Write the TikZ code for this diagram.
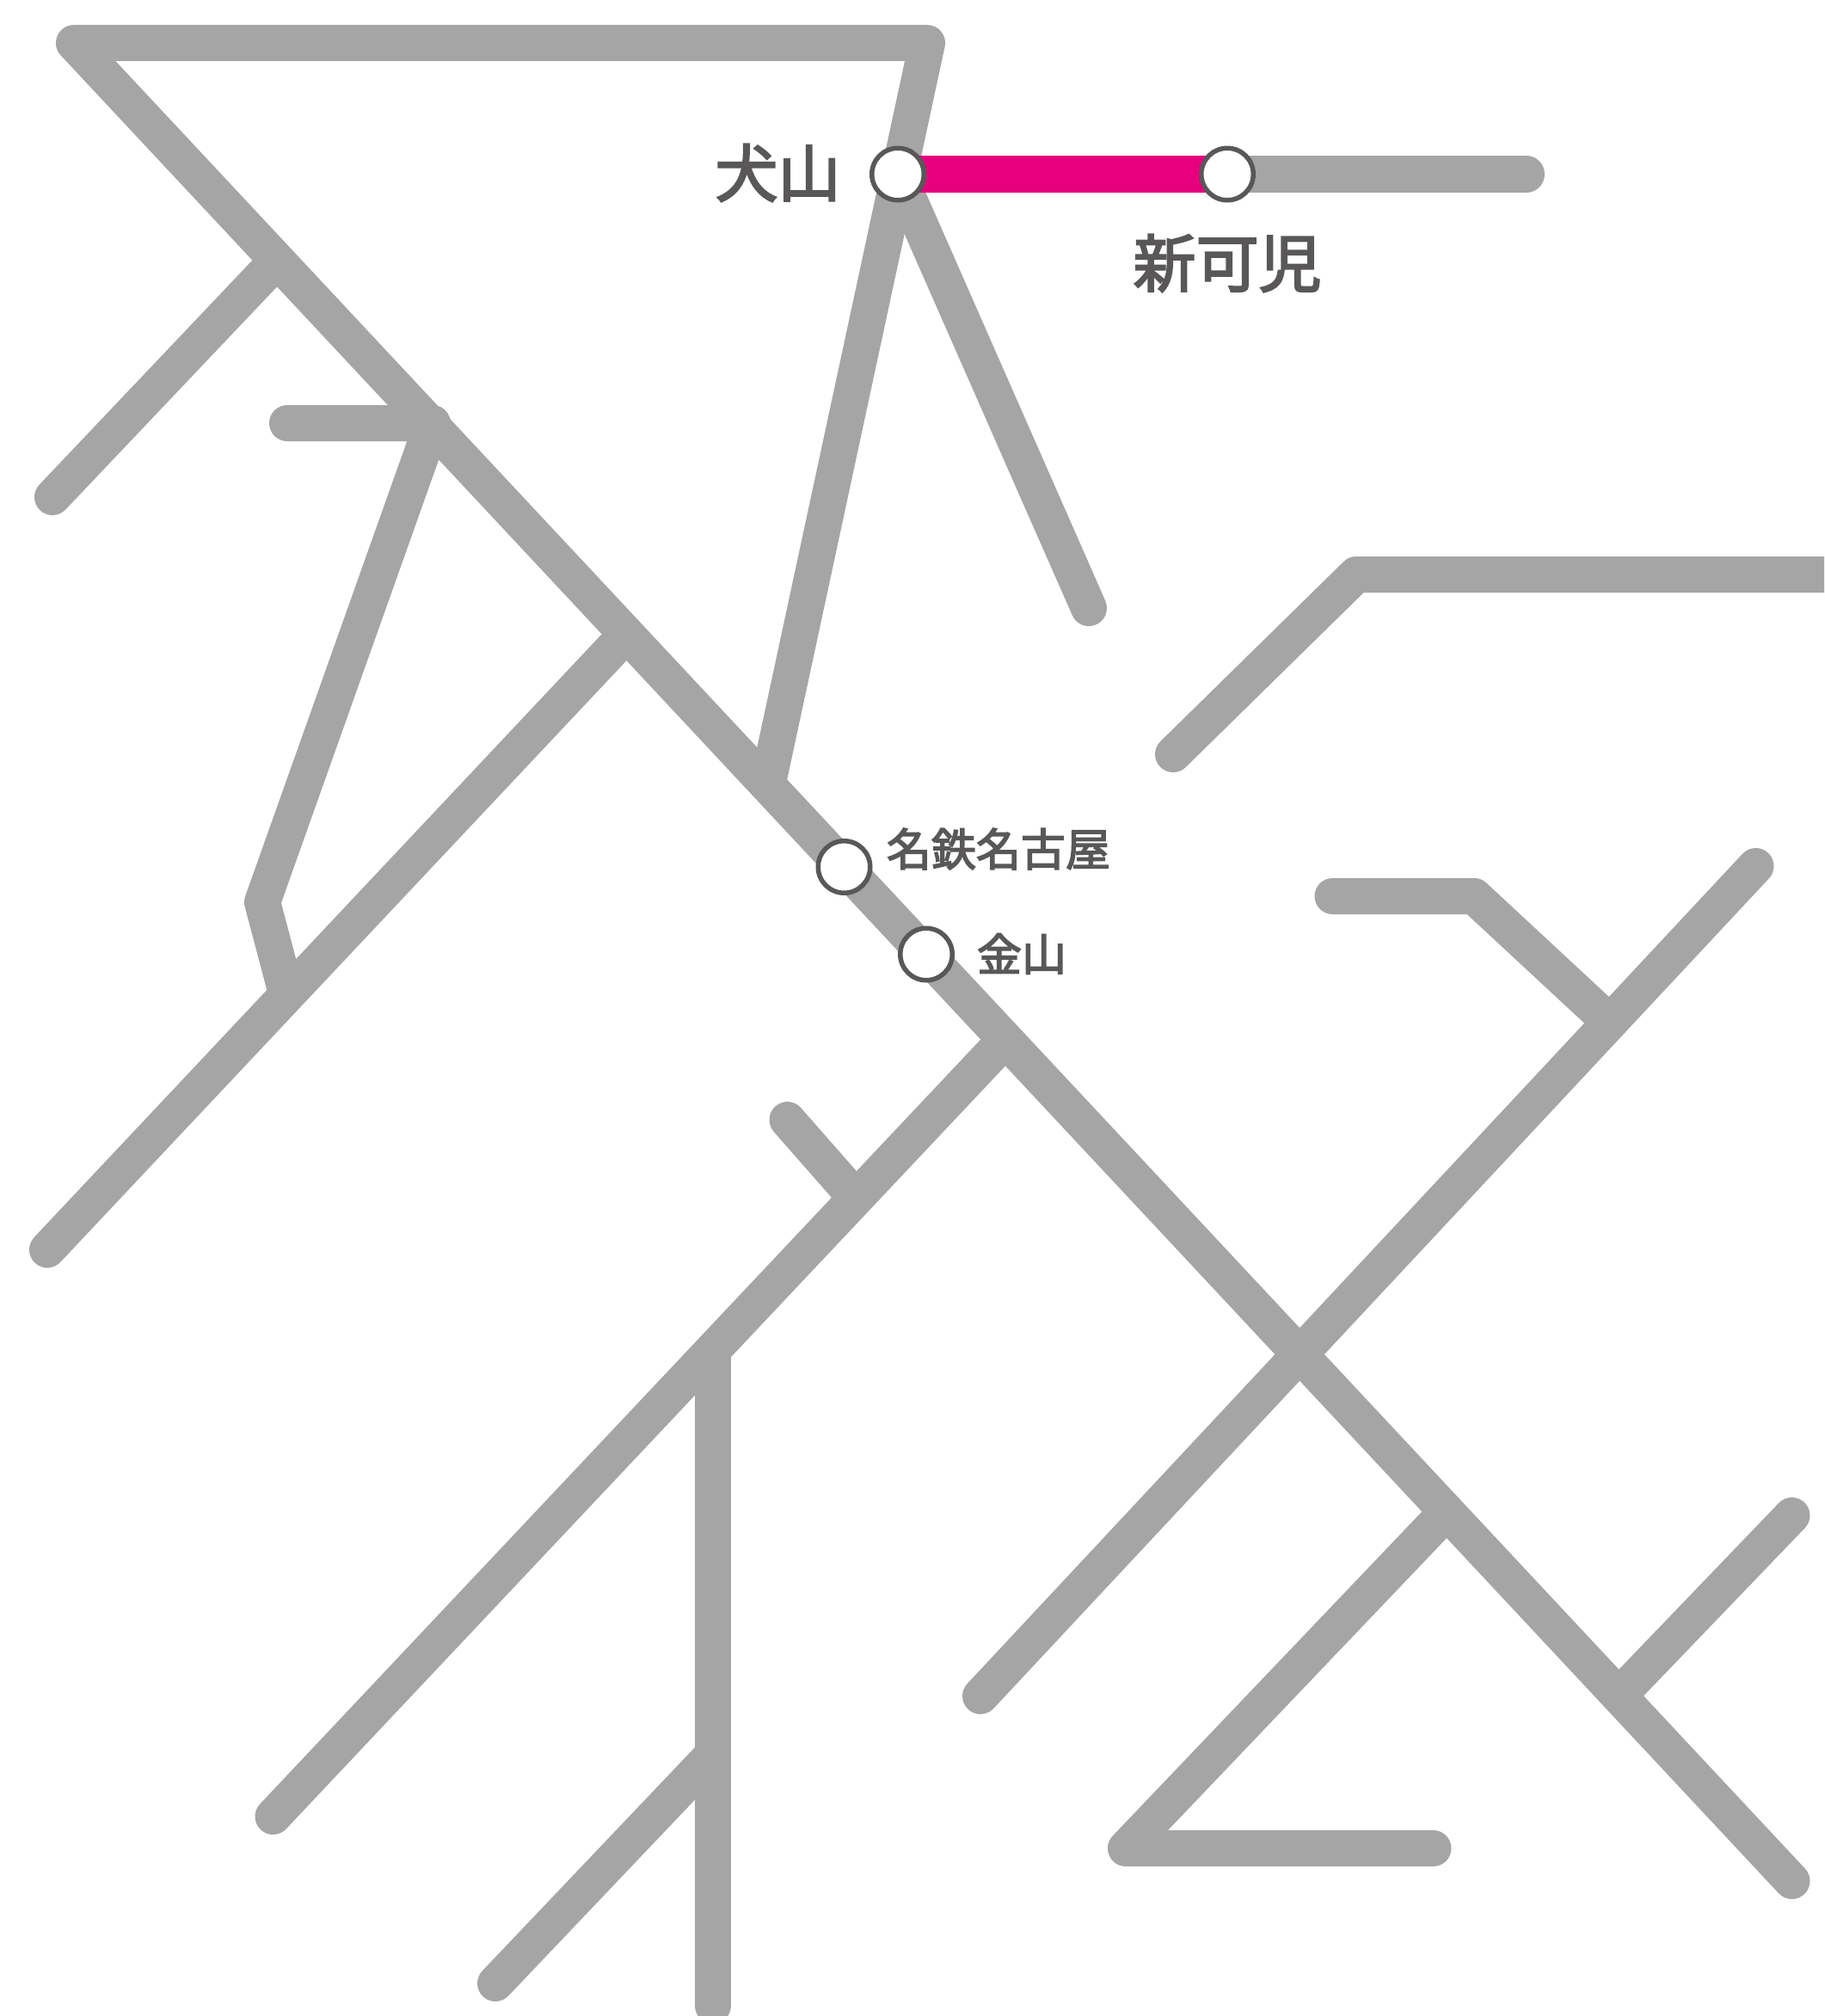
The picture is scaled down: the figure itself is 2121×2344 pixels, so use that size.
\documentclass[tikz,border=0pt]{standalone}
\usepackage{fontspec}
\newfontfamily\cjk[FakeBold=3]{Noto Sans CJK JP}
\definecolor{linegrey}{HTML}{A5A5A5}
\definecolor{linemagenta}{HTML}{E6007E}
\definecolor{inkgrey}{HTML}{595757}
\tikzset{
  railline/.style={draw=linegrey,line width=42pt,line cap=round,line join=round},
  activeline/.style={draw=linemagenta,line width=43pt,line cap=butt},
  stationdot/.style={circle,draw=inkgrey,fill=white,line width=5.5pt,minimum size=60.5pt,inner sep=0pt},
  biglabel/.style={inner sep=0pt,text=inkgrey,font=\cjk\fontsize{73pt}{73pt}\selectfont},
  smalllabel/.style={inner sep=0pt,text=inkgrey,font=\cjk\fontsize{52pt}{52pt}\selectfont}
}
\begin{document}
\begin{tikzpicture}[x=1pt,y=-1pt]
\useasboundingbox (0,0) rectangle (2121,2344);
\clip (0,0) rectangle (2121,2344);
% trunk and top loop
\coordinate (tl) at (86,50);
\coordinate (tr) at (1078,50);
\coordinate (trunkend) at (2083.5,2187);
\coordinate (loopend) at (892.5,912);
\coordinate (inuBranch) at (1266,707);
\coordinate (shinEnd) at (1775,202.5);
% left branches
\coordinate (ulA) at (322,303);
\coordinate (ulB) at (61,578);
\coordinate (hookA) at (334,492);
\coordinate (hookB) at (503,492);
\coordinate (hookC) at (305,1049);
\coordinate (hookD) at (332,1151);
\coordinate (longA) at (726,740);
\coordinate (longB) at (55,1453);
% right branches
\coordinate (rA) at (1364,877);
\coordinate (rB) at (1577,668);
\coordinate (rC) at (2130,668);
\coordinate (sA) at (1549.5,1042);
\coordinate (sB) at (1714,1042);
\coordinate (sC) at (1868,1185);
\coordinate (xA) at (2041.5,1007);
\coordinate (xB) at (1140,1972);
\coordinate (yA) at (2083.5,1762);
\coordinate (yB) at (1887.5,1966);
\coordinate (zA) at (1681,1759);
\coordinate (zB) at (1309,2149);
\coordinate (zC) at (1666.5,2149);
% lower branches
\coordinate (mA) at (1164,1214);
\coordinate (mB) at (317.5,2112);
\coordinate (nA) at (915.5,1302);
\coordinate (nB) at (984,1380);
\coordinate (vA) at (829,1580);
\coordinate (vB) at (829,2332);
\coordinate (wA) at (829,2040);
\coordinate (wB) at (576,2306);
% stations
\coordinate (inuC) at (1044,202.5);
\coordinate (shinC) at (1427,202.5);

\draw[railline] (trunkend) -- (tl) -- (tr) -- (loopend);
\draw[railline] (inuC) -- (inuBranch);
\draw[railline] (shinC) -- (shinEnd);
\draw[railline] (ulA) -- (ulB);
\draw[railline] (hookA) -- (hookB) -- (hookC) -- (hookD);
\draw[railline] (longA) -- (longB);
\draw[railline] (rA) -- (rB) -- (rC);
\draw[railline] (sA) -- (sB) -- (sC);
\draw[railline] (xA) -- (xB);
\draw[railline] (yA) -- (yB);
\draw[railline] (zA) -- (zB) -- (zC);
\draw[railline] (mA) -- (mB);
\draw[railline] (nA) -- (nB);
\draw[railline] (vA) -- (vB);
\draw[railline] (wA) -- (wB);
\draw[activeline] (inuC) -- (shinC);

\node[stationdot] (inuyama) at (inuC) {};
\node[stationdot] (shinkani) at (shinC) {};
\node[stationdot] (meitetsu) at (981.5,1008) {};
\node[stationdot] (kanayama) at (1077,1109.5) {};

\node[biglabel] (inuyamaL) at (904.5,201) {犬山};
\node[biglabel] (shinkaniL) at (1427,306) {新可児};
\node[smalllabel] (meitetsuL) at (1161,987) {名鉄名古屋};
\node[smalllabel] (kanayamaL) at (1188,1109) {金山};
\end{tikzpicture}
\end{document}
